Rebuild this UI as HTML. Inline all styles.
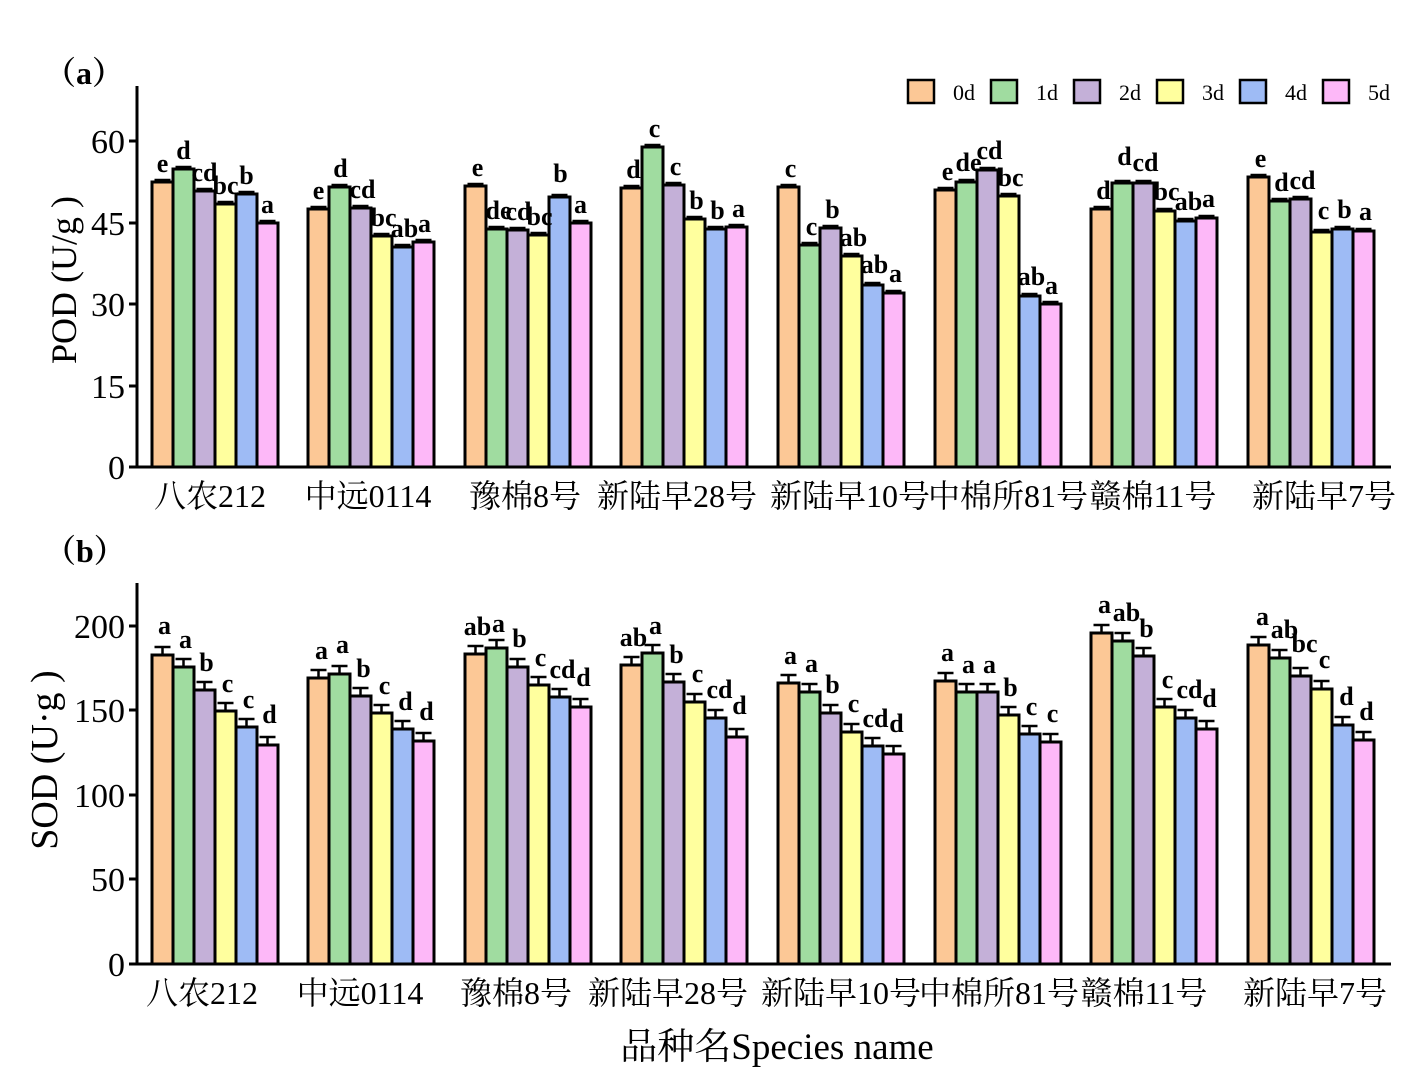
<!DOCTYPE html>
<html><head><meta charset="utf-8"><style>
html,body{margin:0;padding:0;background:#fff;}
svg{display:block;}
.t{font-family:"Liberation Serif","Noto Serif CJK SC",serif;}
.l{font-family:"Liberation Serif",serif;font-weight:bold;font-size:26px;text-anchor:middle;}
</style></head><body>
<svg id="s" width="1417" height="1079" viewBox="0 0 1417 1079" xmlns="http://www.w3.org/2000/svg">
<g id="bars"></g>
<g stroke="#000" stroke-width="3" fill="none">
<path d="M137 86 V467 H1391"/>
<path d="M129 141 H137 M129 223 H137 M129 304 H137 M129 386 H137 M129 467 H137"/>
<path d="M137 583 V964 H1391"/>
<path d="M129 626 H137 M129 710 H137 M129 795 H137 M129 879 H137 M129 964 H137"/>
</g>
<g class="t" font-size="34" text-anchor="end">
<text x="125" y="153">60</text><text x="125" y="235">45</text><text x="125" y="316">30</text><text x="125" y="398">15</text><text x="125" y="479">0</text>
<text x="125" y="638">200</text><text x="125" y="722">150</text><text x="125" y="807">100</text><text x="125" y="891">50</text><text x="125" y="976">0</text>
</g>
<g class="t" font-size="32" text-anchor="middle">
<text x="210" y="507">八农212</text><text x="368" y="507">中远0114</text><text x="525" y="507">豫棉8号</text><text x="677" y="507">新陆早28号</text><text x="850" y="507">新陆早10号</text><text x="1008" y="507">中棉所81号</text><text x="1153" y="507">赣棉11号</text><text x="1324" y="507">新陆早7号</text>
<text x="202" y="1004">八农212</text><text x="360" y="1004">中远0114</text><text x="516" y="1004">豫棉8号</text><text x="668" y="1004">新陆早28号</text><text x="841" y="1004">新陆早10号</text><text x="999" y="1004">中棉所81号</text><text x="1144" y="1004">赣棉11号</text><text x="1315" y="1004">新陆早7号</text>
</g>
<text class="t" x="777" y="1059" font-size="37" text-anchor="middle">品种名Species name</text>
<text class="t" x="76" y="280" font-size="36" text-anchor="middle" transform="rotate(-90 76 280)">POD (U/g )</text>
<text class="t" x="57" y="760" font-size="38" text-anchor="middle" transform="rotate(-90 57 760)">SOD (U·g )</text>
<text class="t" x="44" y="84" font-size="32" font-weight="bold">（a）</text>
<text class="t" x="44" y="562" font-size="32" font-weight="bold">（b）</text>
<g stroke="#000" stroke-width="2.5">
<rect x="908" y="80" width="26" height="23" fill="#FCC896"/>
<rect x="991" y="80" width="26" height="23" fill="#A0DCA0"/>
<rect x="1074" y="80" width="26" height="23" fill="#C4B0D8"/>
<rect x="1157" y="80" width="26" height="23" fill="#FFFF9E"/>
<rect x="1240" y="80" width="26" height="23" fill="#9EBBF5"/>
<rect x="1323" y="80" width="26" height="23" fill="#FDB8F8"/>
</g>
<g class="t" font-size="22">
<text x="953" y="100">0d</text><text x="1036" y="100">1d</text><text x="1119" y="100">2d</text><text x="1202" y="100">3d</text><text x="1285" y="100">4d</text><text x="1368" y="100">5d</text>
</g>
<g class="l">
<text x="162.5" y="172">e</text><text x="183.5" y="159">d</text><text x="204.5" y="181">cd</text><text x="225.5" y="194">bc</text><text x="246.5" y="184">b</text><text x="267.5" y="213">a</text>
<text x="318.5" y="199">e</text><text x="340.5" y="177">d</text><text x="362.5" y="198">cd</text><text x="383.5" y="226">bc</text><text x="404.5" y="237">ab</text><text x="424.5" y="232">a</text>
<text x="477.5" y="176">e</text><text x="498.5" y="219">de</text><text x="518.5" y="220">cd</text><text x="539.5" y="225">bc</text><text x="560.5" y="182">b</text><text x="580.5" y="213">a</text>
<text x="633.5" y="178">d</text><text x="654.5" y="137">c</text><text x="675.5" y="175">c</text><text x="696.5" y="209">b</text><text x="717.5" y="219">b</text><text x="738.5" y="217">a</text>
<text x="790.5" y="177">c</text><text x="811.5" y="235">c</text><text x="832.5" y="218">b</text><text x="853.5" y="246">ab</text><text x="874.5" y="273">ab</text><text x="895.5" y="282">a</text>
<text x="947.5" y="180">e</text><text x="968.5" y="171">de</text><text x="989.5" y="159">cd</text><text x="1010.5" y="186">bc</text><text x="1031.5" y="285">ab</text><text x="1051.5" y="294">a</text>
<text x="1103.5" y="199">d</text><text x="1124.5" y="165">d</text><text x="1145.5" y="171">cd</text><text x="1166.5" y="200">bc</text><text x="1188.5" y="210">ab</text><text x="1208.5" y="207">a</text>
<text x="1260.5" y="167">e</text><text x="1281.5" y="191">d</text><text x="1302.5" y="189">cd</text><text x="1323.5" y="219">c</text><text x="1344.5" y="218">b</text><text x="1365.5" y="220">a</text>
</g>
<g class="l">
<text x="164.5" y="634">a</text><text x="185.5" y="648">a</text><text x="206.5" y="671">b</text><text x="227.5" y="692">c</text><text x="248.5" y="708">c</text><text x="269.5" y="723">d</text>
<text x="321.5" y="659">a</text><text x="342.5" y="653">a</text><text x="363.5" y="677">b</text><text x="384.5" y="694">c</text><text x="405.5" y="710">d</text><text x="426.5" y="720">d</text>
<text x="477.5" y="635">ab</text><text x="498.5" y="632">a</text><text x="519.5" y="647">b</text><text x="540.5" y="666">c</text><text x="562.5" y="678">cd</text><text x="583.5" y="686">d</text>
<text x="633.5" y="646">ab</text><text x="655.5" y="634">a</text><text x="676.5" y="663">b</text><text x="697.5" y="682">c</text><text x="719.5" y="698">cd</text><text x="739.5" y="714">d</text>
<text x="790.5" y="664">a</text><text x="811.5" y="672">a</text><text x="832.5" y="693">b</text><text x="853.5" y="712">c</text><text x="875.5" y="727">cd</text><text x="896.5" y="732">d</text>
<text x="947.5" y="661">a</text><text x="968.5" y="673">a</text><text x="989.5" y="673">a</text><text x="1010.5" y="696">b</text><text x="1031.5" y="715">c</text><text x="1052.5" y="722">c</text>
<text x="1104.5" y="613">a</text><text x="1126.5" y="621">ab</text><text x="1146.5" y="637">b</text><text x="1167.5" y="688">c</text><text x="1189.5" y="698">cd</text><text x="1209.5" y="707">d</text>
<text x="1262.5" y="625">a</text><text x="1284.5" y="638">ab</text><text x="1304.5" y="652">bc</text><text x="1324.5" y="668">c</text><text x="1346.5" y="705">d</text><text x="1366.5" y="720">d</text>
</g>
</svg>
<script>
(function(){
var cols=["#FCC896","#A0DCA0","#C4B0D8","#FFFF9E","#9EBBF5","#FDB8F8"];
var gs=[152,308,465,621,778,935,1091,1248];
var A=[[182,169,191,204,194,223],[209,187,208,236,247,242],[186,229,230,235,197,223],[188,147,185,219,229,227],[187,245,228,256,285,293],[190,182,170,196,296,304],[209,183,183,211,221,218],[177,201,199,232,229,231]];
var B=[[655,667,690,711,727,745],[678,674,696,713,729,741],[654,648,667,685,697,707],[665,653,682,702,718,737],[683,692,713,732,746,754],[681,692,692,715,734,742],[633,641,656,707,718,729],[645,658,676,689,725,740]];
var g=document.getElementById("bars"),h="";
function draw(T,base,eb){
for(var j=0;j<8;j++)for(var i=0;i<6;i++){
var x=gs[j]+i*21,t=T[j][i],c=x+10.5;
h+='<line x1="'+c+'" y1="'+t+'" x2="'+c+'" y2="'+(t-eb)+'" stroke="#000" stroke-width="2.5"/>';
h+='<line x1="'+(c-8)+'" y1="'+(t-eb)+'" x2="'+(c+8)+'" y2="'+(t-eb)+'" stroke="#000" stroke-width="2.5"/>';
h+='<rect x="'+x+'" y="'+t+'" width="21" height="'+(base-t)+'" fill="'+cols[i]+'" stroke="#000" stroke-width="3"/>';
}}
draw(A,467,2);draw(B,964,8);
g.innerHTML=h;
})();
</script>
</body></html>
